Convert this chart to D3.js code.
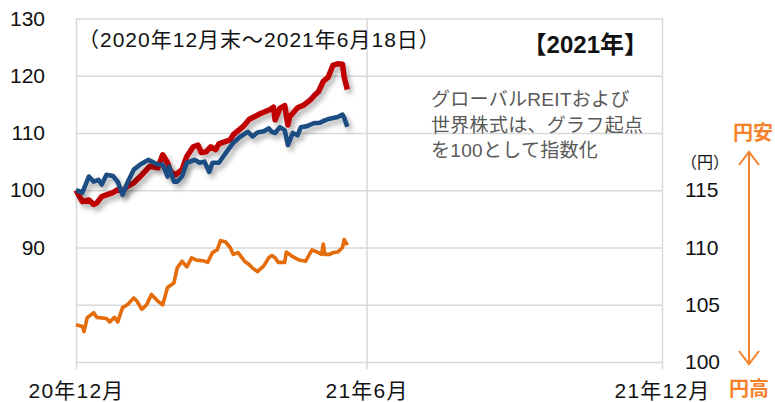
<!DOCTYPE html>
<html lang="ja">
<head>
<meta charset="utf-8">
<title>REIT・世界株式・円相場 2021年</title>
<script src="https://cdn.jsdelivr.net/npm/d3@7"></script>
<style>
body { margin: 0; background: #fff; }
text { font-family: "Liberation Sans", "Noto Sans CJK JP", sans-serif; fill: #111; }
.grid line { stroke: #d9d9d9; stroke-width: 1.5; }
.grid path { display: none; }
.lbl path, .lbl line { display: none; }
.lbl text { font-size: 21px; }
.lbl.month text { letter-spacing: 1.2px; }
.note { fill: #595959; font-size: 19px; letter-spacing: 0.3px; }
.yen-sign { fill: #f5822a; font-weight: bold; font-size: 20px; }
</style>
</head>
<body>
<div id="chart"></div>
<script>

// グローバルREIT（指数、2020年12月末=100）
var reit = [
  ["2020-12-31", 100], ["2021-01-04", 98.0], ["2021-01-08", 98.3], ["2021-01-11", 97.5],
  ["2021-01-13", 97.8], ["2021-01-16", 98.9], ["2021-01-19", 99.2], ["2021-01-23", 99.6],
  ["2021-01-26", 100.1], ["2021-01-29", 99.8], ["2021-02-01", 100.7], ["2021-02-05", 101.3],
  ["2021-02-09", 102.4], ["2021-02-15", 104.2], ["2021-02-20", 103.9], ["2021-02-23", 106.2],
  ["2021-02-26", 104.8], ["2021-02-28", 103.2], ["2021-03-03", 102.7], ["2021-03-07", 103.6],
  ["2021-03-10", 105.9], ["2021-03-14", 107.6], ["2021-03-17", 107.9], ["2021-03-19", 106.6],
  ["2021-03-22", 106.7], ["2021-03-25", 107.6], ["2021-03-28", 107.1], ["2021-03-30", 108.1],
  ["2021-04-06", 108.8], ["2021-04-08", 109.7], ["2021-04-14", 111.1], ["2021-04-18", 112.4],
  ["2021-04-25", 113.4], ["2021-05-01", 114.1], ["2021-05-03", 114.5], ["2021-05-04", 112.3],
  ["2021-05-07", 114.3], ["2021-05-10", 114.8], ["2021-05-12", 111.4], ["2021-05-13", 112.8],
  ["2021-05-18", 114.4], ["2021-05-22", 114.9], ["2021-05-26", 115.8], ["2021-05-29", 116.7],
  ["2021-05-31", 117.2], ["2021-06-03", 119.0], ["2021-06-06", 119.7], ["2021-06-09", 121.8],
  ["2021-06-12", 122.1], ["2021-06-15", 122.0], ["2021-06-16", 119.8], ["2021-06-18", 117.6]
];

// 世界株式（指数、2020年12月末=100）
var stocks = [
  ["2020-12-31", 100], ["2021-01-04", 99.6], ["2021-01-08", 102.4], ["2021-01-11", 101.5],
  ["2021-01-14", 101.8], ["2021-01-16", 101.0], ["2021-01-19", 102.7], ["2021-01-23", 102.5],
  ["2021-01-26", 101.5], ["2021-01-29", 99.2], ["2021-02-01", 101.3], ["2021-02-05", 103.6],
  ["2021-02-09", 104.5], ["2021-02-14", 105.3], ["2021-02-20", 104.5], ["2021-02-23", 104.5],
  ["2021-02-26", 102.4], ["2021-02-27", 104.1], ["2021-03-02", 101.5], ["2021-03-04", 101.5],
  ["2021-03-07", 102.4], ["2021-03-10", 104.8], ["2021-03-15", 105.3], ["2021-03-18", 104.8],
  ["2021-03-21", 105.0], ["2021-03-24", 103.2], ["2021-03-26", 104.8], ["2021-03-30", 104.8],
  ["2021-04-04", 106.8], ["2021-04-08", 108.3], ["2021-04-12", 109.3], ["2021-04-17", 110.2],
  ["2021-04-20", 109.4], ["2021-04-23", 110.1], ["2021-04-27", 110.3], ["2021-04-30", 110.8],
  ["2021-05-02", 110.2], ["2021-05-04", 110.0], ["2021-05-07", 111.0], ["2021-05-10", 110.5],
  ["2021-05-12", 107.9], ["2021-05-15", 110.0], ["2021-05-18", 109.6], ["2021-05-20", 111.0],
  ["2021-05-24", 111.2], ["2021-05-28", 111.7], ["2021-06-01", 111.8], ["2021-06-04", 112.2],
  ["2021-06-07", 112.5], ["2021-06-12", 112.8], ["2021-06-15", 113.2], ["2021-06-16", 112.7],
  ["2021-06-18", 111.1]
];

// 米ドル/円（円、右軸）
var usdjpy = [
  ["2020-12-31", 103.26], ["2021-01-04", 103.1], ["2021-01-05", 102.65], ["2021-01-07", 103.87],
  ["2021-01-11", 104.3], ["2021-01-13", 103.9], ["2021-01-19", 103.8], ["2021-01-21", 103.5],
  ["2021-01-24", 103.9], ["2021-01-26", 103.5], ["2021-01-29", 104.75], ["2021-02-01", 105.0],
  ["2021-02-05", 105.6], ["2021-02-07", 105.3], ["2021-02-10", 104.6], ["2021-02-13", 105.0],
  ["2021-02-16", 105.9], ["2021-02-20", 105.3], ["2021-02-23", 105.0], ["2021-02-26", 106.5],
  ["2021-02-28", 106.7], ["2021-03-02", 106.9], ["2021-03-04", 108.2], ["2021-03-07", 108.8],
  ["2021-03-10", 108.3], ["2021-03-13", 109.1], ["2021-03-16", 108.9], ["2021-03-20", 108.85],
  ["2021-03-23", 108.7], ["2021-03-26", 109.55], ["2021-03-29", 109.8], ["2021-03-31", 110.6],
  ["2021-04-03", 110.5], ["2021-04-06", 110.0], ["2021-04-08", 109.4], ["2021-04-11", 109.55],
  ["2021-04-15", 108.8], ["2021-04-18", 108.5], ["2021-04-20", 108.2], ["2021-04-23", 107.9],
  ["2021-04-27", 108.4], ["2021-04-30", 109.1], ["2021-05-02", 109.3], ["2021-05-04", 109.1],
  ["2021-05-06", 108.7], ["2021-05-10", 108.7], ["2021-05-11", 109.6], ["2021-05-15", 109.2],
  ["2021-05-19", 108.9], ["2021-05-23", 108.8], ["2021-05-27", 109.8], ["2021-05-31", 109.55],
  ["2021-06-02", 109.4], ["2021-06-03", 110.3], ["2021-06-04", 109.4], ["2021-06-07", 109.4],
  ["2021-06-09", 109.55], ["2021-06-12", 109.6], ["2021-06-15", 110.0], ["2021-06-16", 110.7],
  ["2021-06-18", 110.2]
];

var leftTicks = [70, 80, 90, 100, 110, 120, 130];
var leftLabels = [90, 100, 110, 120, 130];
var rightLabels = [100, 105, 110, 115];
var monthTicks = ["2020-12-31", "2021-06-30", "2021-12-31"];
var monthLabels = ["20年12月", "21年6月", "21年12月"];

var parse = d3.timeParse("%Y-%m-%d");

var margin = {top: 18.5, right: 113, bottom: 40, left: 76},
    W = 775, H = 402,
    width = W - margin.left - margin.right,
    height = H - margin.top - margin.bottom;

var svg = d3.select("#chart").append("svg")
    .attr("width", W)
    .attr("height", H);

var defs = svg.append("defs");
var shadow = defs.append("filter").attr("id", "shadow")
    .attr("x", "-10%").attr("y", "-10%").attr("width", "130%").attr("height", "140%");
shadow.append("feDropShadow")
    .attr("dx", 3).attr("dy", 4).attr("stdDeviation", 2.4)
    .attr("flood-color", "#000").attr("flood-opacity", 0.3);

var g = svg.append("g")
    .attr("transform", "translate(" + margin.left + "," + margin.top + ")");

var x = d3.scaleTime()
    .domain([parse(monthTicks[0]), parse(monthTicks[2])])
    .range([0, width]);
var y = d3.scaleLinear().domain([70, 130]).range([height, 0]);
var yYen = d3.scaleLinear().domain([100, 130]).range([height, 0]);

// horizontal grid
g.append("g").attr("class", "grid")
    .call(d3.axisLeft(y).tickValues(leftTicks).tickSize(-width).tickFormat(""));

// vertical grid (extending a bit below the plot)
g.append("g").attr("class", "grid")
    .attr("transform", "translate(0," + (height + 7) + ")")
    .call(d3.axisBottom(x).tickValues(monthTicks.map(parse)).tickSize(-(height + 7)).tickFormat(""));

// left labels
g.append("g").attr("class", "lbl")
    .call(d3.axisLeft(y).tickValues(leftLabels).tickSize(0).tickPadding(31).tickFormat(d3.format("d")));

// right labels
g.append("g").attr("class", "lbl")
    .attr("transform", "translate(" + width + ",0)")
    .call(d3.axisRight(yYen).tickValues(rightLabels).tickSize(0).tickPadding(23).tickFormat(d3.format("d")));

// month labels
g.append("g").attr("class", "lbl month")
    .attr("transform", "translate(0," + (height + 7) + ")")
    .call(d3.axisBottom(x).tickValues(monthTicks.map(parse)).tickSize(0).tickPadding(14)
        .tickFormat(function(d, i) { return monthLabels[i]; }));

var lineIdx = d3.line()
    .x(function(d) { return x(parse(d[0])); })
    .y(function(d) { return y(d[1]); });
var lineYen = d3.line()
    .x(function(d) { return x(parse(d[0])); })
    .y(function(d) { return yYen(d[1]); });

g.append("path").datum(usdjpy)
    .attr("d", lineYen)
    .attr("fill", "none")
    .attr("stroke", "#e46c0a")
    .attr("stroke-width", 3.6)
    .attr("stroke-linejoin", "round");

g.append("path").datum(reit)
    .attr("d", lineIdx)
    .attr("fill", "none")
    .attr("stroke", "#c00000")
    .attr("stroke-width", 5.5)
    .attr("stroke-linejoin", "round")
    .attr("filter", "url(#shadow)");

g.append("path").datum(stocks)
    .attr("d", lineIdx)
    .attr("fill", "none")
    .attr("stroke", "#1f4e82")
    .attr("stroke-width", 4.6)
    .attr("stroke-linejoin", "round")
    .attr("filter", "url(#shadow)");

// annotations
svg.append("text")
    .attr("x", 78).attr("y", 47)
    .style("font-size", "21px").style("letter-spacing", "1px")
    .text("（2020年12月末～2021年6月18日）");

svg.append("text")
    .attr("x", 648).attr("y", 53)
    .attr("text-anchor", "end")
    .style("font-size", "24px").style("font-weight", "bold")
    .text("【2021年】");

var noteLines = ["グローバルREITおよび", "世界株式は、グラフ起点", "を100として指数化"];
svg.append("text").attr("class", "note")
    .selectAll("tspan").data(noteLines).enter().append("tspan")
    .attr("x", 431)
    .attr("y", function(d, i) { return 106 + i * 25.5; })
    .text(function(d) { return d; });

svg.append("text")
    .attr("x", 681).attr("y", 168)
    .style("font-size", "16px")
    .text("（円）");

// 円安 / 円高 arrow
var ax = 749;
var arrow = svg.append("g")
    .attr("stroke", "#f5822a").attr("stroke-width", 2).attr("fill", "none");
arrow.append("line").attr("x1", ax).attr("x2", ax).attr("y1", 153).attr("y2", 364);
arrow.append("path").attr("d", "M" + (ax - 10) + ",165 L" + ax + ",152 L" + (ax + 10) + ",165");
arrow.append("path").attr("d", "M" + (ax - 10) + ",351 L" + ax + ",364 L" + (ax + 10) + ",351");

svg.append("text").attr("class", "yen-sign")
    .attr("x", ax + 4).attr("y", 140).attr("text-anchor", "middle")
    .text("円安");
svg.append("text").attr("class", "yen-sign")
    .attr("x", ax).attr("y", 396).attr("text-anchor", "middle")
    .text("円高");

</script>
</body>
</html>
